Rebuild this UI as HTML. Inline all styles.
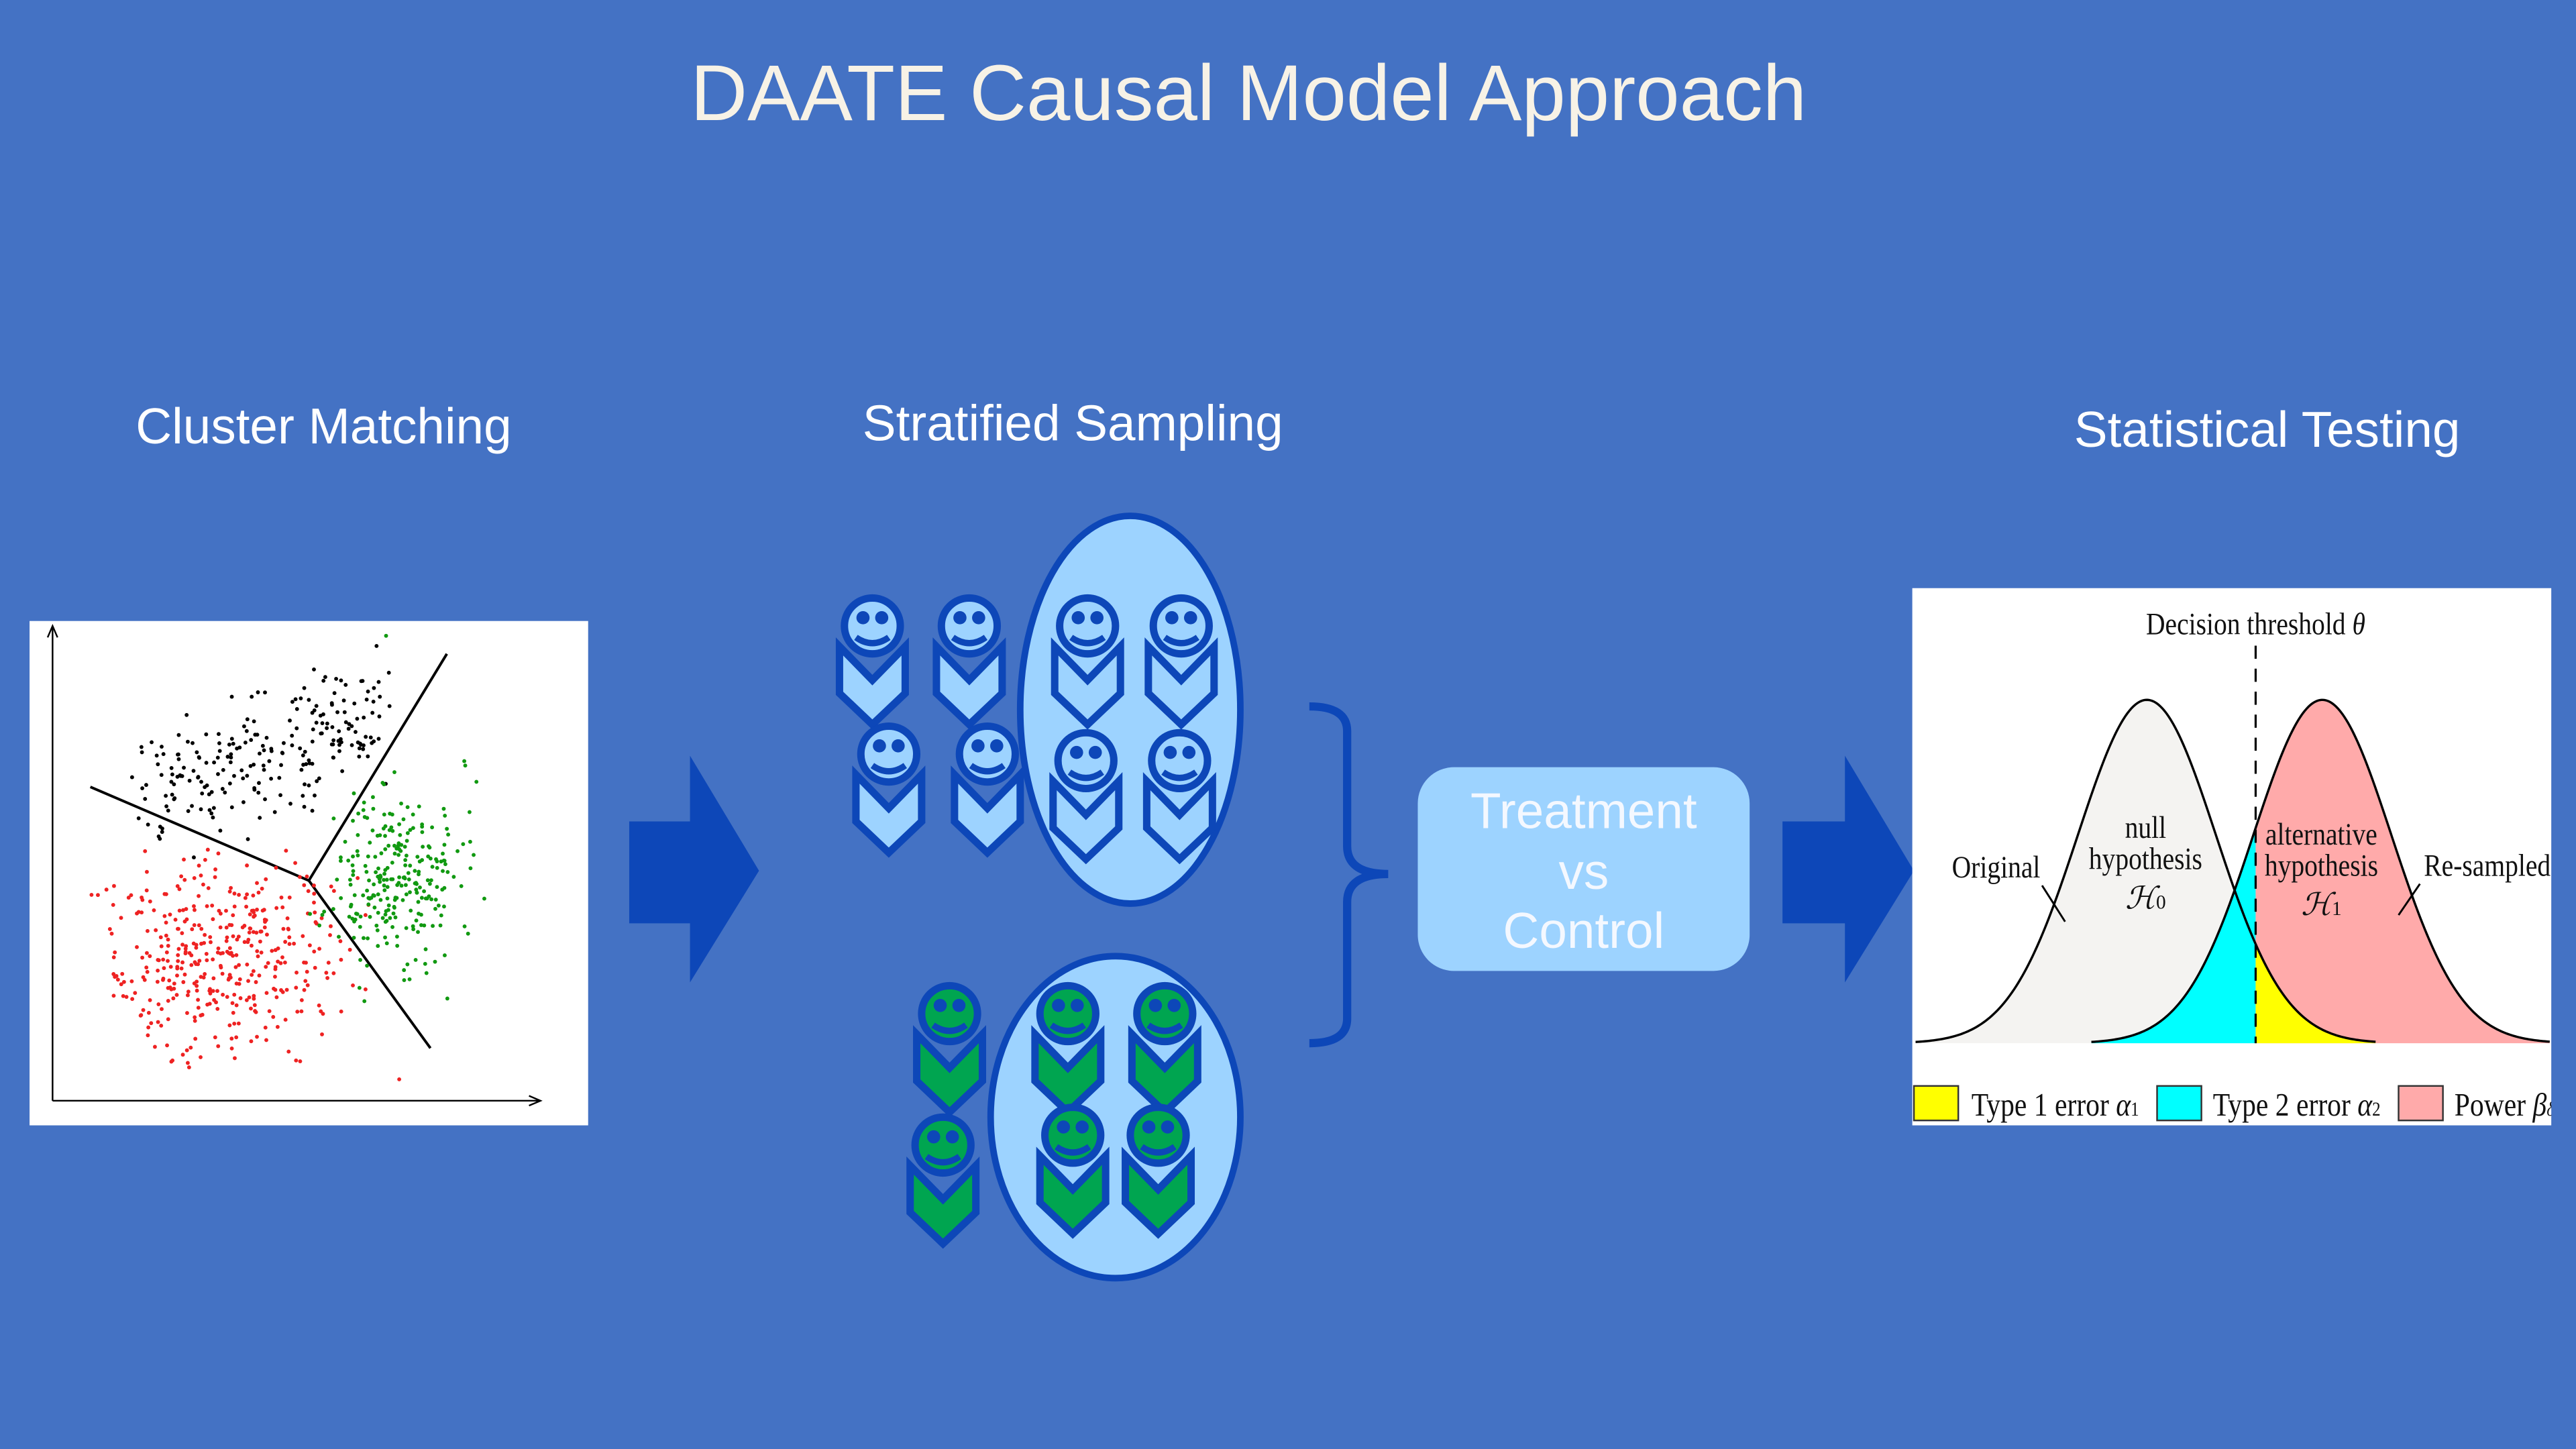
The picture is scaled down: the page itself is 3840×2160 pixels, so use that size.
<!DOCTYPE html>
<html><head><meta charset="utf-8"><style>
html,body{margin:0;padding:0;background:#4472C4;}
svg{display:block;}
</style></head><body>
<svg xmlns="http://www.w3.org/2000/svg" width="3840" height="2160" viewBox="0 0 1568 882">
<defs>
<g id="ib">
 <polygon points="-20,12.5 0,33 20,12.5 20,41 0,60 -20,41" stroke-width="4.5" stroke="#0D47B8" stroke-linejoin="miter"/>
 <circle cx="0" cy="0" r="17" stroke="#0D47B8" stroke-width="4.5"/>
 <circle cx="-5.7" cy="-5" r="4" fill="#0D47B8"/>
 <circle cx="5.7" cy="-5" r="4" fill="#0D47B8"/>
 <path d="M-10,7 Q0,14 10,7" fill="none" stroke="#0D47B8" stroke-width="3.8"/>
</g>
</defs>
<rect width="1568" height="882" fill="#4472C4"/>
<text x="760" y="73" text-anchor="middle" font-family="Liberation Sans, sans-serif" font-size="48" fill="#F7F2E6">DAATE Causal Model Approach</text>
<g font-family="Liberation Sans, sans-serif" font-size="30.5" fill="#FFFFFF" text-anchor="middle">
<text x="197" y="270">Cluster Matching</text>
<text x="653" y="268">Stratified Sampling</text>
<text x="1380" y="272">Statistical Testing</text>
</g>

<!-- scatter -->
<rect x="18" y="378" width="340" height="307" fill="#FFFFFF"/>
<g stroke="#000" stroke-width="1" fill="none">
<line x1="32" y1="382" x2="32" y2="670"/>
<line x1="32" y1="670" x2="329" y2="670"/>
<path d="M29,388 L32,381 L35,388 M322,667 L329,670 L322,673"/>
</g>
<g stroke="#000" stroke-width="1.6">
<line x1="188" y1="536" x2="272" y2="398"/>
<line x1="188" y1="536" x2="55" y2="479"/>
<line x1="188" y1="536" x2="262" y2="638"/>
</g>
<g id="dots"></g>

<!-- arrows -->
<g fill="#0D47B8">
<polygon points="383,500 420,500 420,460 462,530 420,598 420,562 383,562"/>
<polygon points="1085,500 1123,500 1123,460 1165,530 1123,598 1123,562 1085,562"/>
</g>

<!-- ellipses -->
<ellipse cx="688" cy="432" rx="67" ry="118" fill="#9DD3FF" stroke="#0D47B8" stroke-width="4"/>
<ellipse cx="679" cy="680" rx="76" ry="98" fill="#9DD3FF" stroke="#0D47B8" stroke-width="4"/>

<g fill="#9DD3FF">
<use href="#ib" x="531" y="381"/><use href="#ib" x="590" y="381"/>
<use href="#ib" x="662" y="381"/><use href="#ib" x="719" y="381"/>
<use href="#ib" x="541" y="459"/><use href="#ib" x="601" y="459"/>
<use href="#ib" x="661" y="463"/><use href="#ib" x="718" y="463"/>
</g>
<g fill="#00A550">
<use href="#ib" x="578" y="617"/><use href="#ib" x="650" y="617"/><use href="#ib" x="709" y="617"/>
<use href="#ib" x="574" y="697"/><use href="#ib" x="653" y="691"/><use href="#ib" x="705" y="691"/>
</g>

<!-- bracket -->
<path d="M797,430 Q820,430 820,445 L820,515 Q820,532 845,532 Q820,532 820,549 L820,620 Q820,635 797,635" fill="none" stroke="#0D47B8" stroke-width="5"/>

<!-- treatment box -->
<rect x="863" y="467" width="202" height="124" rx="22" fill="#9DD3FF"/>
<g font-family="Liberation Sans, sans-serif" font-size="30.5" fill="#F4F8FF" text-anchor="middle">
<text x="964" y="504">Treatment</text>
<text x="964" y="541">vs</text>
<text x="964" y="577">Control</text>
</g>

<!-- chart -->
<rect x="1164" y="358" width="389" height="327" fill="#FFFFFF"/>
<g id="chart"></g>
<line x1="1373" y1="393" x2="1373" y2="635" stroke="#000" stroke-width="1.3" stroke-dasharray="8,6"/>
<g font-family="Liberation Serif, serif" font-size="19" fill="#111" text-anchor="middle">
<text x="1373" y="386" transform="translate(1373,0) scale(0.85,1) translate(-1373,0)">Decision threshold <tspan font-style="italic">θ</tspan></text>
<text x="1215" y="534" transform="translate(1215,0) scale(0.85,1) translate(-1215,0)">Original</text>
<text x="1306" y="510" transform="translate(1306,0) scale(0.85,1) translate(-1306,0)">null</text>
<text x="1306" y="529" transform="translate(1306,0) scale(0.85,1) translate(-1306,0)">hypothesis</text>
<text x="1306" y="553" font-style="italic">ℋ<tspan font-size="12" font-style="normal">0</tspan></text>
<text x="1413" y="514" transform="translate(1413,0) scale(0.85,1) translate(-1413,0)">alternative</text>
<text x="1413" y="533" transform="translate(1413,0) scale(0.85,1) translate(-1413,0)">hypothesis</text>
<text x="1413" y="557" font-style="italic">ℋ<tspan font-size="12" font-style="normal">1</tspan></text>
<text x="1514" y="533" transform="translate(1514,0) scale(0.85,1) translate(-1514,0)">Re-sampled</text>
</g>
<g stroke="#000" stroke-width="1.2">
<line x1="1243" y1="539" x2="1257" y2="561"/>
<line x1="1473" y1="538" x2="1460" y2="557"/>
</g>
<g stroke="#333" stroke-width="1">
<rect x="1165" y="661" width="27" height="21" fill="#FFFF00"/>
<rect x="1313" y="661" width="27" height="21" fill="#00FFFF"/>
<rect x="1460" y="661" width="27" height="21" fill="#FFAAAA"/>
</g>
<g font-family="Liberation Serif, serif" font-size="20" fill="#111">
<text x="1200" y="679" transform="translate(1200,0) scale(0.85,1) translate(-1200,0)">Type 1 error <tspan font-style="italic">α</tspan><tspan font-size="12">1</tspan></text>
<text x="1347" y="679" transform="translate(1347,0) scale(0.85,1) translate(-1347,0)">Type 2 error <tspan font-style="italic">α</tspan><tspan font-size="12">2</tspan></text>
<text x="1494" y="679" transform="translate(1494,0) scale(0.85,1) translate(-1494,0)">Power <tspan font-style="italic">β<tspan font-size="12">δ</tspan></tspan></text>
</g>
<rect x="1553" y="350" width="15" height="350" fill="#4472C4"/>

<script>
(function(){
var NS="http://www.w3.org/2000/svg";
var s=12345;function r(){s=(s*1103515245+12345)%2147483648;return s/2147483648;}
function g(){return (r()+r()+r()-1.5)*1.2;}
var D=document.getElementById('dots');
function dot(x,y,c){var e=document.createElementNS(NS,'circle');e.setAttribute('cx',x.toFixed(1));e.setAttribute('cy',y.toFixed(1));e.setAttribute('r','1.2');e.setAttribute('fill',c);D.appendChild(e);}
var i,t,x,y;
for(i=0;i<230;i++){t=r();x=92+t*142+g()*10;y=480-t*45+g()*30;dot(x,y,'#000');}
for(i=0;i<400;i++){x=135+g()*60;y=580+g()*48;if(x<42||y>660)continue;dot(x,y,'#EE2222');}
for(i=0;i<260;i++){x=245+g()*35;y=535+g()*46;if(x>295)continue;dot(x,y,'#119911');}
dot(235,387,'#119911');dot(243,657,'#EE2222');
var C=document.getElementById('chart');
var base=635,H=209,sg=42,m0=1306.8,m1=1413.6,th=1373;
function f(x,m){return base-H*Math.exp(-(x-m)*(x-m)/(2*sg*sg));}
function area(a,b,m,col){var d='M'+a+','+base;for(var x=a;x<=b;x+=1)d+=' L'+x+','+f(x,m).toFixed(2);d+=' L'+b+','+base+'Z';var p=document.createElementNS(NS,'path');p.setAttribute('d',d);p.setAttribute('fill',col);C.appendChild(p);}
function line(a,b,m){var d='M'+a+','+f(a,m).toFixed(2);for(var x=a+1;x<=b;x+=1)d+=' L'+x+','+f(x,m).toFixed(2);var p=document.createElementNS(NS,'path');p.setAttribute('d',d);p.setAttribute('fill','none');p.setAttribute('stroke','#000');p.setAttribute('stroke-width','1.4');C.appendChild(p);}
area(1166,th,m0,'#F4F3F1');
area(1273,th,m1,'#00FFFF');
area(th,1552,m1,'#FFAAAA');
area(th,1446,m0,'#FFFF00');
line(1166,1446,m0);line(1273,1552,m1);
})();
</script>
</svg>
</body></html>
